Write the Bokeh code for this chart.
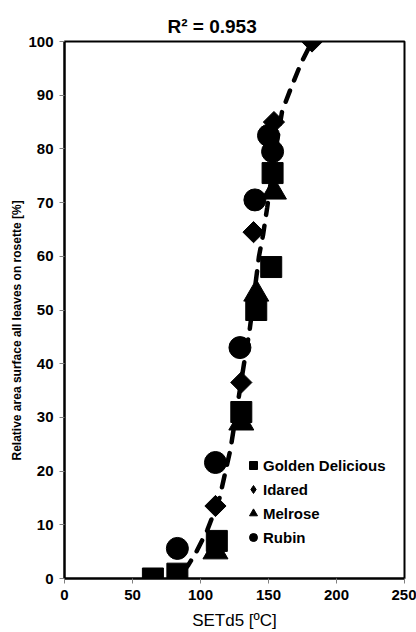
from bokeh.plotting import figure
from bokeh.models import Range1d, FixedTicker, Legend, LegendItem, Title
from bokeh.embed import file_html
from bokeh.resources import INLINE
import math

# ---- data ----
gd_x = [65, 83, 112, 130, 141, 152, 153]
gd_y = [0, 0.9, 7, 31, 50, 58, 75.5]

id_x = [111, 130, 139, 154, 182]
id_y = [13.5, 36.5, 64.5, 85, 100]

me_x = [111, 130, 141, 154]
me_y = [5, 29, 53, 72]

ru_x = [83, 111, 129, 140, 150, 153]
ru_y = [5.6, 21.6, 43, 70.5, 82.5, 79.5]

fit_x = [88, 91, 97, 105, 114, 122, 132, 136, 140, 143, 146, 149, 154, 160, 166, 174, 182]
fit_y = [1.5, 2.5, 5, 9, 15, 24, 40, 46, 54, 60, 64, 69, 78, 87, 91, 96, 100]

x_ticks = [0, 50, 100, 150, 200, 250]
y_ticks = [0, 10, 20, 30, 40, 50, 60, 70, 80, 90, 100]

title_text = "R\u00b2 = 0.953"
x_label = "SETd5 [\u00baC]"
y_label = "Relative area surface all leaves on rosette [%]"
names = ["Golden Delicious", "Idared", "Melrose", "Rubin"]

FONT = "Liberation Sans"

p = figure(width=416, height=632, output_backend="svg", toolbar_location=None,
           x_range=Range1d(0, 250), y_range=Range1d(0, 100),
           min_border_left=64, min_border_right=12, min_border_top=41, min_border_bottom=54,
           title=title_text)

p.title.text_font = FONT
p.title.text_font_size = "19px"
p.title.text_font_style = "bold"
p.title.align = "left"
p.title.offset = 103
p.title.text_color = "black"

p.background_fill_color = "white"
p.border_fill_color = "white"
p.xgrid.visible = False
p.ygrid.visible = False
p.outline_line_color = "black"
p.outline_line_width = 2

for ax in (p.xaxis[0], p.yaxis[0]):
    ax.axis_line_color = "black"
    ax.axis_line_width = 2
    ax.major_tick_line_color = "#808080"
    ax.major_tick_in = 0
    ax.major_tick_out = 5
    ax.minor_tick_line_color = None
    ax.major_label_text_font = FONT
    ax.major_label_text_font_style = "bold"
    ax.major_label_text_font_size = "15px"
    ax.major_label_text_color = "black"
    ax.axis_label_text_font = FONT
    ax.axis_label_text_color = "black"

p.xaxis.ticker = FixedTicker(ticks=x_ticks)
p.yaxis.ticker = FixedTicker(ticks=y_ticks)
p.xaxis.axis_label = x_label
p.xaxis.axis_label_text_font_size = "17px"
p.xaxis.axis_label_text_font_style = "normal"
p.xaxis.major_label_standoff = 6
p.yaxis.major_label_standoff = 6
p.xaxis.axis_label_standoff = 8

ytitle = Title(text=y_label, align="left", offset=118, text_font=FONT,
               text_font_size="12px", text_font_style="bold", text_color="black",
               standoff=4)
p.add_layout(ytitle, "left")

p.line(fit_x, fit_y, line_color="black", line_width=4.5, line_dash="12 11", line_cap="round")

r_me = p.scatter(me_x, me_y, marker="triangle", size=25, color="black")
r_id = p.scatter(id_x, id_y, marker="square", size=15, angle=math.pi / 4, color="black")
r_gd = p.scatter(gd_x, gd_y, marker="square", size=21, color="black")
r_ru = p.scatter(ru_x, ru_y, marker="circle", size=22, color="black")
# off-frame diamond used only for the legend swatch
r_id_leg = p.scatter([-100], [-100], marker="diamond", size=15, color="black")

legend = Legend(items=[LegendItem(label=names[0], renderers=[r_gd]),
                       LegendItem(label=names[1], renderers=[r_id_leg]),
                       LegendItem(label=names[2], renderers=[r_me]),
                       LegendItem(label=names[3], renderers=[r_ru])],
                location=(179, 29), padding=0, margin=0, spacing=0,
                glyph_width=20, glyph_height=24, label_height=24, label_standoff=0,
                border_line_color=None, background_fill_alpha=0,
                label_text_font=FONT, label_text_font_style="bold",
                label_text_font_size="15px", label_text_color="black")
p.add_layout(legend, "center")

open("out.html", "w").write(file_html(p, INLINE))
